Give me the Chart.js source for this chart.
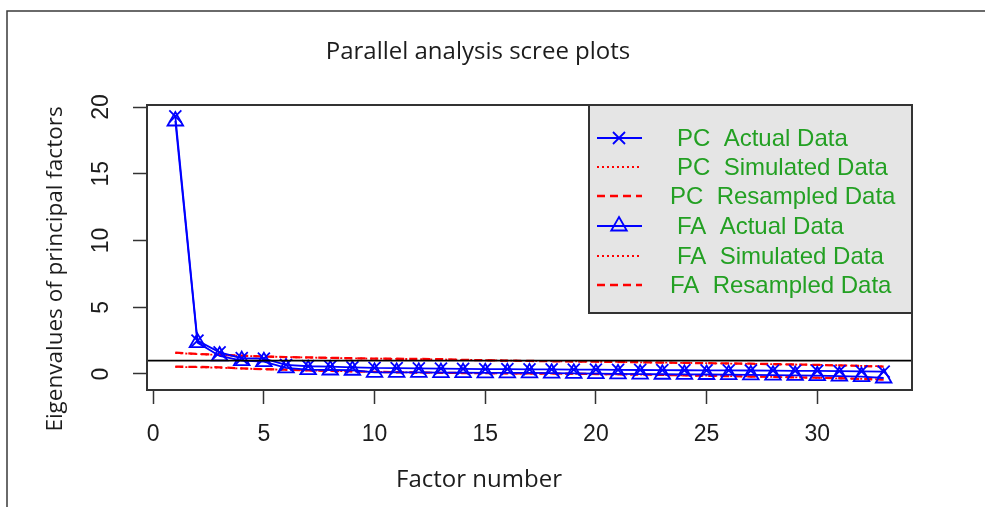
<!DOCTYPE html>
<html>
<head>
<meta charset="utf-8">
<title>Parallel analysis scree plots</title>
<script src="https://cdn.jsdelivr.net/npm/chart.js@4.4.1/dist/chart.umd.min.js"></script>
<style>
  html, body { margin: 0; padding: 0; background: #fff; }
  #wrap { width: 985px; height: 507px; }
</style>
</head>
<body>
<div id="wrap"><canvas id="scree" width="985" height="507"></canvas></div>
<script>
// factor numbers on the x axis
const factors = [1, 2, 3, 4, 5, 6, 7, 8, 9, 10, 11, 12, 13, 14, 15, 16, 17,
  18, 19, 20, 21, 22, 23, 24, 25, 26, 27, 28, 29, 30, 31, 32, 33];

// eigenvalues
const pcActual = [19.3, 2.5, 1.62, 1.18, 1.15, 0.68, 0.58, 0.55, 0.5, 0.45, 0.44,
  0.42, 0.4, 0.38, 0.37, 0.36, 0.35, 0.34, 0.33, 0.32, 0.31, 0.3, 0.29, 0.28,
  0.27, 0.27, 0.26, 0.25, 0.24, 0.23, 0.21, 0.19, 0.17];
const pcSimulated = [1.57, 1.49, 1.42, 1.36, 1.31, 1.27, 1.23, 1.2, 1.17, 1.15,
  1.13, 1.11, 1.09, 1.06, 1.03, 1.0, 0.98, 0.96, 0.94, 0.92, 0.9, 0.87, 0.85,
  0.83, 0.81, 0.78, 0.76, 0.73, 0.71, 0.68, 0.65, 0.61, 0.57];
const pcResampled = [1.6, 1.5, 1.43, 1.37, 1.31, 1.27, 1.24, 1.21, 1.18, 1.15,
  1.14, 1.13, 1.11, 1.06, 1.03, 1.0, 0.98, 0.95, 0.93, 0.92, 0.9, 0.88, 0.85,
  0.83, 0.81, 0.79, 0.77, 0.74, 0.71, 0.68, 0.64, 0.6, 0.55];
const faActual = [18.95, 2.35, 1.35, 1.0, 0.92, 0.45, 0.32, 0.3, 0.28, 0.12, 0.12,
  0.12, 0.1, 0.1, 0.09, 0.08, 0.08, 0.06, 0.05, 0.03, 0.01, -0.01, -0.02, -0.03,
  -0.04, -0.05, -0.07, -0.09, -0.11, -0.13, -0.16, -0.2, -0.3];
const faSimulated = [0.53, 0.51, 0.47, 0.41, 0.36, 0.31, 0.27, 0.23, 0.19, 0.16,
  0.13, 0.11, 0.09, 0.07, 0.05, 0.04, 0.03, 0.02, 0.01, -0.01, -0.03, -0.05,
  -0.08, -0.1, -0.13, -0.16, -0.19, -0.22, -0.25, -0.29, -0.33, -0.37, -0.41];
const faResampled = [0.55, 0.53, 0.5, 0.42, 0.36, 0.32, 0.27, 0.23, 0.2, 0.16,
  0.13, 0.11, 0.09, 0.07, 0.06, 0.05, 0.04, 0.03, 0.02, 0.0, -0.02, -0.04,
  -0.07, -0.1, -0.13, -0.16, -0.19, -0.22, -0.25, -0.28, -0.32, -0.37, -0.42];

const xTicks = [0, 5, 10, 15, 20, 25, 30];
const yTicks = [0, 5, 10, 15, 20];
const eigenCutoff = 1;

const legendText = ['PC  Actual Data', 'PC  Simulated Data', 'PC  Resampled Data',
  'FA  Actual Data', 'FA  Simulated Data', 'FA  Resampled Data'];

const BLUE = '#0000ff';
const RED = '#ff0000';
const TEXT = '#1c1c1c';
const LEGEND_GREEN = '#23a023';
const ARIAL = '"Liberation Sans", Arial, sans-serif';

const pts = (vals) => vals.map((v, i) => ({ x: factors[i], y: v }));

// helper for the dataset styles
const redLine = (label, vals, dash, width, order) => ({
  label, data: pts(vals), borderColor: RED, borderWidth: width,
  borderDash: dash, pointRadius: 0, fill: false, order,
});

const datasets = [
  {
    label: legendText[0], data: pts(pcActual), borderColor: BLUE, borderWidth: 1.8,
    pointStyle: 'crossRot', pointRadius: 8.5, pointBorderWidth: 1.8,
    pointBorderColor: BLUE, pointBackgroundColor: 'transparent', order: 1,
  },
  redLine(legendText[1], pcSimulated, [2, 3], 1.8, 4),
  redLine(legendText[2], pcResampled, [8, 5], 2.3, 3),
  {
    label: legendText[3], data: pts(faActual), borderColor: BLUE, borderWidth: 1.8,
    pointStyle: 'triangle', pointRadius: 9, pointBorderWidth: 1.8,
    pointBorderColor: BLUE, pointBackgroundColor: 'transparent', order: 2,
  },
  redLine(legendText[4], faSimulated, [2, 3], 1.8, 6),
  redLine(legendText[5], faResampled, [8, 5], 2.3, 5),
];

// frame, titles, rotated y labels, cutoff line, box and the R style legend
const rStyle = {
  id: 'rStyle',
  beforeDraw(chart) {
    const ctx = chart.ctx;
    ctx.save();
    ctx.strokeStyle = '#3a3a3a';
    ctx.lineWidth = 1.5;
    ctx.beginPath();
    ctx.moveTo(7, chart.height);
    ctx.lineTo(7, 11);
    ctx.lineTo(chart.width, 11);
    ctx.stroke();
    ctx.restore();
  },
  afterDatasetsDraw(chart) {
    const { ctx, chartArea: a, scales } = chart;
    ctx.save();
    // abline at eigenvalue 1
    const yc = scales.y.getPixelForValue(eigenCutoff);
    ctx.strokeStyle = '#000';
    ctx.lineWidth = 1.8;
    ctx.beginPath();
    ctx.moveTo(a.left, yc);
    ctx.lineTo(a.right, yc);
    ctx.stroke();
    // plot box
    ctx.strokeStyle = '#333';
    ctx.lineWidth = 2;
    ctx.strokeRect(a.left, a.top, a.right - a.left, a.bottom - a.top);
    ctx.restore();
  },
  afterDraw(chart) {
    const { ctx, scales } = chart;
    ctx.save();
    ctx.fillStyle = TEXT;
    ctx.textAlign = 'center';
    ctx.textBaseline = 'middle';

    ctx.font = '24px "Open Sans"';
    ctx.fillText('Parallel analysis scree plots', 478, 52);
    ctx.fillText('Factor number', 479, 480);
    ctx.save();
    ctx.font = '22.5px "Open Sans"';
    ctx.translate(56, 269);
    ctx.rotate(-Math.PI / 2);
    ctx.fillText('Eigenvalues of principal factors', 0, 0);
    ctx.restore();

    // y tick labels, rotated like R's default las = 0
    ctx.font = '23px ' + ARIAL;
    yTicks.forEach((v) => {
      ctx.save();
      ctx.translate(102, scales.y.getPixelForValue(v));
      ctx.rotate(-Math.PI / 2);
      ctx.fillText(String(v), 0, 0);
      ctx.restore();
    });

    // legend box
    const lx = 589, ly = 105, lw = 912 - 589, lh = 208;
    ctx.fillStyle = '#e5e5e5';
    ctx.fillRect(lx, ly, lw, lh);
    ctx.strokeStyle = '#333';
    ctx.lineWidth = 2;
    ctx.strokeRect(lx, ly, lw, lh);

    const rowY = [138, 167, 196, 226, 256, 285];
    const textX = [677, 677, 670, 677, 677, 670];
    ctx.font = '24px ' + ARIAL;
    ctx.textAlign = 'left';
    chart.data.datasets.forEach((ds, i) => {
      const y = rowY[i];
      ctx.save();
      ctx.strokeStyle = ds.borderColor;
      ctx.lineWidth = ds.borderWidth;
      ctx.setLineDash(ds.borderDash || []);
      ctx.beginPath();
      ctx.moveTo(597, y);
      ctx.lineTo(642, y);
      ctx.stroke();
      ctx.setLineDash([]);
      if (ds.pointRadius > 0) {
        ctx.strokeStyle = ds.pointBorderColor;
        ctx.fillStyle = 'rgba(0,0,0,0)';
        ctx.lineWidth = ds.pointBorderWidth;
        Chart.helpers.drawPoint(ctx, {
          pointStyle: ds.pointStyle, radius: ds.pointRadius, rotation: 0,
          borderWidth: ds.pointBorderWidth,
        }, 619, y);
      }
      ctx.restore();
      ctx.fillStyle = LEGEND_GREEN;
      ctx.fillText(ds.label, textX[i], y + 1);
    });
    ctx.restore();
  },
};

new Chart(document.getElementById('scree'), {
  type: 'line',
  data: { datasets },
  plugins: [rStyle],
  options: {
    responsive: false,
    animation: false,
    layout: { padding: { left: 0, top: 105, right: 73, bottom: 0 } },
    plugins: { legend: { display: false }, tooltip: { enabled: false } },
    elements: { line: { tension: 0 } },
    scales: {
      x: {
        type: 'linear', min: -0.28, max: 34.28,
        afterBuildTicks: (s) => { s.ticks = xTicks.map((v) => ({ value: v })); },
        afterFit: (s) => { s.height = 117; },
        ticks: {
          color: TEXT, padding: 17, maxRotation: 0, autoSkip: false,
          font: { family: ARIAL, size: 23 },
        },
        grid: { drawOnChartArea: false, tickLength: 14, tickColor: '#333', tickWidth: 1.5 },
        border: { color: '#333', width: 2 },
      },
      y: {
        type: 'linear', min: -1.2, max: 20.15,
        afterBuildTicks: (s) => { s.ticks = yTicks.map((v) => ({ value: v })); },
        afterFit: (s) => { s.width = 147; },
        ticks: { display: false },
        grid: { drawOnChartArea: false, tickLength: 14, tickColor: '#333', tickWidth: 1.5 },
        border: { color: '#333', width: 2 },
      },
    },
  },
});
</script>
</body>
</html>
